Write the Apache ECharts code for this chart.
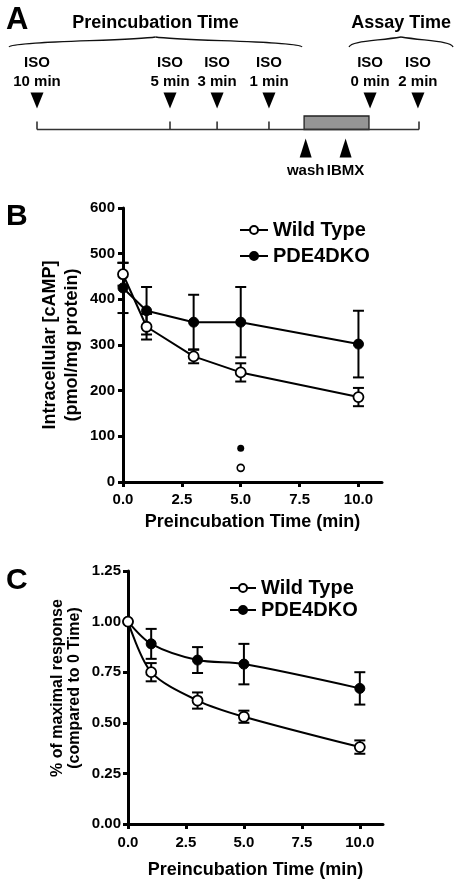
<!DOCTYPE html>
<html><head><meta charset="utf-8">
<script src="https://cdn.jsdelivr.net/npm/echarts@6/dist/echarts.min.js"></script>
<style>html,body{margin:0;padding:0;background:#fff}#c{width:456px;height:880px}</style>
</head><body><div id="c"></div>
<script>
// ---------- Panel A: protocol schematic (timeline positions, schematic units) ----------
const isoLabels = ['ISO\n10 min', 'ISO\n5 min', 'ISO\n3 min', 'ISO\n1 min', 'ISO\n0 min', 'ISO\n2 min'];
const isoPos = [0, 5, 6.77, 8.72, 12.52, 14.32];
const timelineTicks = [0, 5, 6.77, 8.72, 14.36];
const stepLabels = ['wash', 'IBMX'];
const stepPos = [10.1, 11.6];
const washBox = [10.04, 12.48];
const braceNames = ['Preincubation Time', 'Assay Time'];
const braceFrom = [-1.05, 11.73];
const braceTo = [9.96, 15.64];

// ---------- Panel B: intracellular cAMP ----------
const timeMin = [0, 1, 3, 5, 10];
const wtCamp = [455, 340, 275, 240, 186];
const wtCampErr = [25, 28, 15, 20, 20];
const koCamp = [425, 375, 350, 350, 302];
const koCampErr = [55, 52, 60, 77, 73];
const extraX = [5];
const wtExtra = [31];
const koExtra = [74];

// ---------- Panel C: fraction of maximal response ----------
const wtFrac = [1.00, 0.75, 0.61, 0.53, 0.38];
const wtFracErr = [0, 0.045, 0.04, 0.03, 0.033];
const koFrac = [1.00, 0.89, 0.81, 0.79, 0.67];
const koFracErr = [0, 0.074, 0.064, 0.1, 0.08];
const xTickVals = [0, 2.5, 5, 7.5, 10];

const yTitleB = 'Intracellular [cAMP]\n(pmol/mg protein)';
const yTitleC = '% of maximal response\n(compared to 0 Time)';

// ---------- layout / style ----------
const FONT = '"Liberation Sans", Arial, Helvetica, sans-serif';
const LANE = { arrowDown: 100.5, tick: 125.5, line: 129.5, boxTop: 116, arrowUp: 148, braceEnd: 47, braceMid: 37, braceLabel: 23 };

const chart = echarts.init(document.getElementById('c'), null, { renderer: 'canvas' });

function errSeries(name, xi, yi, xs, ys, es, capW) {
  const data = [];
  xs.forEach((x, i) => { if (es[i] > 0) data.push([x, ys[i] - es[i], ys[i] + es[i]]); });
  return {
    type: 'custom', name: name + ' err', xAxisIndex: xi, yAxisIndex: yi, data: data, z: 2, silent: true,
    encode: { x: 0, y: [1, 2] },
    renderItem: function (params, api) {
      const lo = api.coord([api.value(0), api.value(1)]);
      const hi = api.coord([api.value(0), api.value(2)]);
      const hw = capW / 2;
      const st = { stroke: '#000', lineWidth: 2 };
      return { type: 'group', children: [
        { type: 'line', shape: { x1: lo[0], y1: lo[1], x2: hi[0], y2: hi[1] }, style: st },
        { type: 'line', shape: { x1: lo[0] - hw, y1: lo[1], x2: lo[0] + hw, y2: lo[1] }, style: st },
        { type: 'line', shape: { x1: hi[0] - hw, y1: hi[1], x2: hi[0] + hw, y2: hi[1] }, style: st }
      ] };
    }
  };
}

function valueAxisX(gi, labelMargin, nameGap) {
  return {
    type: 'value', gridIndex: gi, min: 0, max: 11,
    name: 'Preincubation Time (min)', nameLocation: 'middle', nameGap: nameGap,
    nameTextStyle: { fontFamily: FONT, fontWeight: 'bold', fontSize: 18, color: '#000' },
    axisLine: { onZero: false, lineStyle: { color: '#000', width: 3 } },
    axisTick: { length: 5, lineStyle: { color: '#000', width: 3 }, customValues: xTickVals },
    axisLabel: { customValues: xTickVals, margin: labelMargin, fontFamily: FONT, fontWeight: 'bold', fontSize: 15, color: '#000', formatter: v => v.toFixed(1) },
    splitLine: { show: false }
  };
}

const option = {
  animation: false,
  backgroundColor: '#fff',
  textStyle: { fontFamily: FONT },
  title: [
    { text: 'A', left: 1, top: 0, textStyle: { fontFamily: FONT, fontWeight: 'bold', fontSize: 31, color: '#000' } },
    { text: 'B', left: 1, top: 197, textStyle: { fontFamily: FONT, fontWeight: 'bold', fontSize: 30, color: '#000' } },
    { text: 'C', left: 1, top: 561, textStyle: { fontFamily: FONT, fontWeight: 'bold', fontSize: 30, color: '#000' } }
  ],
  graphic: [
    { type: 'text', x: 61, y: 345, rotation: Math.PI / 2, silent: true,
      style: { text: yTitleB, fontFamily: FONT, fontWeight: 'bold', fontSize: 18, lineHeight: 22, fill: '#000', align: 'center', verticalAlign: 'middle' } },
    { type: 'text', x: 66, y: 688, rotation: Math.PI / 2, silent: true,
      style: { text: yTitleC, fontFamily: FONT, fontWeight: 'bold', fontSize: 16, lineHeight: 17, fill: '#000', align: 'center', verticalAlign: 'middle' } }
  ],
  legend: [
    { data: ['Wild Type', 'PDE4DKO'], orient: 'vertical', left: 239, top: 220, padding: 0, itemWidth: 28, itemHeight: 10, itemGap: 6,
      textStyle: { fontFamily: FONT, fontWeight: 'bold', fontSize: 20, color: '#000' }, selectedMode: false },
    { data: ['Wild Type', 'PDE4DKO'], orient: 'vertical', left: 229, top: 578, padding: 0, itemWidth: 26, itemHeight: 10, itemGap: 2,
      textStyle: { fontFamily: FONT, fontWeight: 'bold', fontSize: 20, color: '#000' }, selectedMode: false }
  ],
  grid: [
    { left: 37, width: 382, top: 0, height: 170 },
    { left: 123, right: 74, top: 208, bottom: 398 },
    { left: 128, right: 73, top: 571, bottom: 56 }
  ],
  xAxis: [
    { type: 'value', gridIndex: 0, min: 0, max: 14.36, show: false },
    valueAxisX(1, 10, 31),
    valueAxisX(2, 11, 37)
  ],
  yAxis: [
    { type: 'value', gridIndex: 0, min: 0, max: 170, inverse: true, show: false },
    { type: 'value', gridIndex: 1, min: 0, max: 600, interval: 100,
      axisLine: { onZero: false, lineStyle: { color: '#000', width: 3 } },
      axisTick: { length: 5, lineStyle: { color: '#000', width: 3 } },
      axisLabel: { margin: 8, fontFamily: FONT, fontWeight: 'bold', fontSize: 15, color: '#000' },
      splitLine: { show: false } },
    { type: 'value', gridIndex: 2, min: 0, max: 1.25, interval: 0.25,
      axisLine: { onZero: false, lineStyle: { color: '#000', width: 3 } },
      axisTick: { length: 5, lineStyle: { color: '#000', width: 3 } },
      axisLabel: { margin: 7, fontFamily: FONT, fontWeight: 'bold', fontSize: 15, color: '#000', formatter: v => v.toFixed(2) },
      splitLine: { show: false } }
  ],
  series: [
    // ----- Panel B -----
    { type: 'line', name: 'Wild Type', xAxisIndex: 1, yAxisIndex: 1, z: 5,
      data: timeMin.map((t, i) => [t, wtCamp[i]]),
      symbol: 'circle', symbolSize: 10, lineStyle: { color: '#000', width: 2 },
      itemStyle: { color: '#fff', borderColor: '#000', borderWidth: 1.8 } },
    { type: 'line', name: 'PDE4DKO', xAxisIndex: 1, yAxisIndex: 1, z: 4,
      data: timeMin.map((t, i) => [t, koCamp[i]]),
      symbol: 'circle', symbolSize: 10, lineStyle: { color: '#000', width: 2 },
      itemStyle: { color: '#000', borderColor: '#000', borderWidth: 1 } },
    errSeries('Wild Type', 1, 1, timeMin, wtCamp, wtCampErr, 11),
    errSeries('PDE4DKO', 1, 1, timeMin, koCamp, koCampErr, 11),
    { type: 'scatter', name: 'WT extra', xAxisIndex: 1, yAxisIndex: 1, z: 5,
      data: extraX.map((t, i) => [t, wtExtra[i]]), symbol: 'circle', symbolSize: 7,
      itemStyle: { color: '#fff', borderColor: '#000', borderWidth: 1.6, opacity: 1 } },
    { type: 'scatter', name: 'KO extra', xAxisIndex: 1, yAxisIndex: 1, z: 5,
      data: extraX.map((t, i) => [t, koExtra[i]]), symbol: 'circle', symbolSize: 7,
      itemStyle: { color: '#000', opacity: 1 } },

    // ----- Panel C -----
    errSeries('PDE4DKO', 2, 2, timeMin, koFrac, koFracErr, 11),
    errSeries('Wild Type', 2, 2, timeMin, wtFrac, wtFracErr, 11),
    { type: 'line', name: 'PDE4DKO', xAxisIndex: 2, yAxisIndex: 2, z: 4,
      data: timeMin.map((t, i) => [t, koFrac[i]]), smooth: 0.3,
      symbol: 'circle', symbolSize: 10, lineStyle: { color: '#000', width: 2 },
      itemStyle: { color: '#000', borderColor: '#000', borderWidth: 1 } },
    { type: 'line', name: 'Wild Type', xAxisIndex: 2, yAxisIndex: 2, z: 5,
      data: timeMin.map((t, i) => [t, wtFrac[i]]), smooth: 0.3,
      symbol: 'circle', symbolSize: 10, lineStyle: { color: '#000', width: 2 },
      itemStyle: { color: '#fff', borderColor: '#000', borderWidth: 1.8 } },

    // ----- Panel A -----
    { type: 'line', name: 'timeline', xAxisIndex: 0, yAxisIndex: 0, silent: true, symbol: 'none',
      data: [[timelineTicks[0], LANE.line], [timelineTicks[timelineTicks.length - 1], LANE.line]],
      lineStyle: { color: '#333', width: 1.5 } },
    { type: 'scatter', name: 'ticks', xAxisIndex: 0, yAxisIndex: 0, silent: true,
      data: timelineTicks.map(p => [p, LANE.tick]), symbol: 'rect', symbolSize: [1.6, 8],
      itemStyle: { color: '#333', opacity: 1 } },
    { type: 'custom', name: 'washbox', xAxisIndex: 0, yAxisIndex: 0, silent: true, z: 3,
      data: [[washBox[0], washBox[1]]],
      renderItem: function (params, api) {
        const a = api.coord([api.value(0), LANE.boxTop]);
        const b = api.coord([api.value(1), LANE.line]);
        return { type: 'rect', shape: { x: a[0], y: a[1], width: b[0] - a[0], height: b[1] - a[1] },
          style: { fill: '#959595', stroke: '#222', lineWidth: 1.3 } };
      } },
    { type: 'scatter', name: 'ISO', xAxisIndex: 0, yAxisIndex: 0, silent: true,
      data: isoPos.map((p, i) => ({ value: [p, LANE.arrowDown], label: { formatter: isoLabels[i] } })),
      symbol: 'triangle', symbolRotate: 180, symbolSize: [13, 16], itemStyle: { color: '#000', opacity: 1 },
      label: { show: true, position: 'top', distance: 1, fontFamily: FONT, fontWeight: 'bold', fontSize: 15, lineHeight: 19, color: '#000', align: 'center' } },
    { type: 'scatter', name: 'steps', xAxisIndex: 0, yAxisIndex: 0, silent: true,
      data: stepPos.map((p, i) => ({ value: [p, LANE.arrowUp], label: { formatter: stepLabels[i] } })),
      symbol: 'triangle', symbolSize: [12, 19], itemStyle: { color: '#000', opacity: 1 },
      label: { show: true, position: 'bottom', distance: 6, fontFamily: FONT, fontWeight: 'bold', fontSize: 15, color: '#000' } },
    { type: 'custom', name: 'braces', xAxisIndex: 0, yAxisIndex: 0, silent: true,
      data: braceNames.map((n, i) => [braceFrom[i], braceTo[i]]),
      renderItem: function (params, api) {
        const l = api.coord([api.value(0), LANE.braceEnd]);
        const r = api.coord([api.value(1), LANE.braceEnd]);
        const top = api.coord([api.value(0), LANE.braceMid])[1];
        const lab = api.coord([api.value(0), LANE.braceLabel])[1];
        const m = (l[0] + r[0]) / 2;
        const y0 = l[1];
        const st = { stroke: '#111', lineWidth: 1.3, fill: null };
        return { type: 'group', children: [
          { type: 'bezierCurve', shape: { x1: l[0], y1: y0, cpx1: l[0] + 2, cpy1: top + 4, cpx2: m - 25, cpy2: top + 4, x2: m, y2: top }, style: st },
          { type: 'bezierCurve', shape: { x1: r[0], y1: y0, cpx1: r[0] - 2, cpy1: top + 4, cpx2: m + 25, cpy2: top + 4, x2: m, y2: top }, style: st },
          { type: 'text', x: m, y: lab, style: { text: braceNames[params.dataIndex], fontFamily: FONT, fontWeight: 'bold', fontSize: 18, fill: '#000', align: 'center', verticalAlign: 'middle' } }
        ] };
      } }
  ]
};
chart.setOption(option);
</script>
</body></html>
